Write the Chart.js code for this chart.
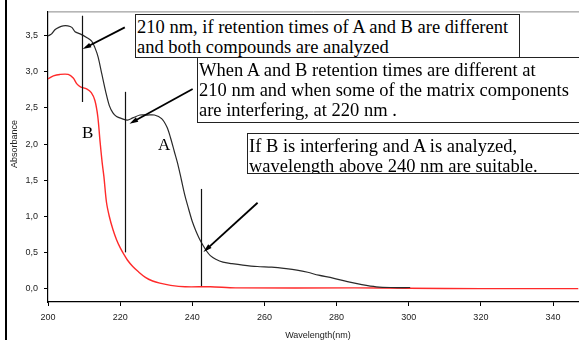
<!DOCTYPE html>
<html lang="en">
<head>
  <meta charset="UTF-8">
  <title>Absorbance spectra of A and B</title>
  <script src="https://cdn.jsdelivr.net/npm/chart.js"></script>
  <style>
    body { margin: 0; background: #fff; }
    #wrap { position: relative; width: 579px; height: 340px; overflow: hidden; }
    #leftbar { position: absolute; left: 5px; top: 0; width: 2px; height: 340px; background: #000; }
    .note {
      position: absolute;
      font-family: "Liberation Serif", "Times New Roman", serif;
      font-size: 18.5px;
      line-height: 20px;
      color: #000;
      background: #fff;
      border: 1px solid #222;
      padding: 2px 1px 0 1px;
      white-space: nowrap;
      box-sizing: border-box;
      overflow: hidden;
    }
    .lbl {
      position: absolute;
      font-family: "Liberation Serif", "Times New Roman", serif;
      font-size: 17px;
      color: #000;
    }
    .axt {
      position: absolute;
      font-family: "Liberation Sans", Arial, sans-serif;
      font-size: 9px;
      color: #222;
      white-space: nowrap;
    }
  </style>
</head>
<body>
<div id="wrap">
  <canvas id="chart" width="579" height="340"></canvas>
  <div id="leftbar"></div>
  <div class="note" style="left:135px; top:14px; width:385px; height:44px;">210 nm, if retention times of A and B are different<br>and both compounds are analyzed</div>
  <div class="note" style="left:197px; top:57px; width:400px; height:66px;">When A and B retention times are different at<br>210 nm and when some of the matrix components<br>are interfering, at 220 nm .</div>
  <div class="note" style="left:247px; top:133px; width:360px; height:41px;">If B is interfering and A is analyzed,<br>wavelength above 240 nm are suitable.</div>
  <div class="lbl" style="left:82px; top:123px;">B</div>
  <div class="lbl" style="left:158px; top:135px;">A</div>
  <div class="axt" style="left:-10px; top:139px; transform: rotate(-90deg); width:48px; text-align:center;">Absorbance</div>
  <div class="axt" style="left:255px; top:330px; width:126px; text-align:center;">Wavelength(nm)</div>
</div>

<script>
  // spectrum of compound A (black)
  const wavelengthA = [200, 201, 202, 203, 204.2, 205.5, 206.6, 207.5, 208.9, 210.7, 212.1, 213, 213.9, 214.9, 216, 217, 218, 219, 220.5, 222,
    223.5, 225.5, 227.5, 229.5, 231.5, 233, 234, 235, 236, 237, 238, 239, 240, 241, 242, 243, 244, 245, 246.5, 248.5,
    251, 254, 258, 262, 266, 269, 272, 275, 279, 283, 287, 291, 295, 300.4];
  const absorbA = [3.49, 3.52, 3.58, 3.61, 3.63, 3.63, 3.61, 3.55, 3.52, 3.47, 3.42, 3.33, 3.2, 2.97, 2.72, 2.53, 2.43, 2.38, 2.35, 2.33,
    2.36, 2.40, 2.40, 2.40, 2.35, 2.23, 2.08, 1.9, 1.72, 1.5, 1.28, 1.1, 0.93, 0.8, 0.69, 0.6, 0.52, 0.46, 0.41, 0.37,
    0.35, 0.33, 0.31, 0.30, 0.28, 0.26, 0.23, 0.19, 0.15, 0.1, 0.06, 0.03, 0.02, 0.02];

  // spectrum of compound B (red)
  const wavelengthB = [200, 201.5, 203.3, 205.6, 207, 208, 209, 210.7, 212, 213, 213.8, 214.4, 215, 215.5, 216.2, 217, 218, 219, 220, 221,
    222, 223.5, 225, 227, 229, 231, 234, 238, 245, 252, 285, 300, 320, 347];
  const absorbB = [2.90, 2.94, 2.96, 2.96, 2.91, 2.83, 2.79, 2.76, 2.71, 2.6, 2.38, 2.05, 1.75, 1.55, 1.2, 1.0, 0.82, 0.68, 0.57, 0.48,
    0.40, 0.31, 0.24, 0.16, 0.11, 0.08, 0.05, 0.03, 0.03, 0.015, 0.015, 0.01, 0.005, 0.005];

  const xTickValues = [200, 220, 240, 260, 280, 300, 320, 340];
  const yTickValues = [0, 0.5, 1, 1.5, 2, 2.5, 3, 3.5];

  // annotation marks in data units: [nm, top absorbance, bottom absorbance]
  const markerLines = [[209.3, 3.77, 2.58], [221.3, 2.72, 0.505], [242.5, 1.38, 0.04]];
  // arrows: [from nm, from abs, to nm, to abs]
  const arrows = [[221.3, 3.61, 209.6, 3.31], [240.1, 2.76, 222.6, 2.28], [258.1, 1.19, 243.1, 0.51]];

  const toPoints = (xs, ys) => xs.map((x, i) => ({ x: x, y: ys[i] }));

  const annotate = {
    id: 'annotate',
    afterDatasetsDraw(chart) {
      const { ctx, chartArea } = chart;
      const xs = chart.scales.x, ys = chart.scales.y;
      ctx.save();
      // top frame line
      ctx.strokeStyle = '#888';
      ctx.lineWidth = 1;
      ctx.beginPath();
      ctx.moveTo(chartArea.left, chartArea.top + 0.5);
      ctx.lineTo(chartArea.right, chartArea.top + 0.5);
      ctx.stroke();

      ctx.strokeStyle = '#111';
      ctx.lineWidth = 1.2;
      markerLines.forEach(m => {
        const px = Math.round(xs.getPixelForValue(m[0])) + 0.5;
        ctx.beginPath();
        ctx.moveTo(px, ys.getPixelForValue(m[1]));
        ctx.lineTo(px, ys.getPixelForValue(m[2]));
        ctx.stroke();
      });

      ctx.strokeStyle = '#000';
      ctx.fillStyle = '#000';
      ctx.lineWidth = 1.8;
      arrows.forEach(a => {
        const x1 = xs.getPixelForValue(a[0]), y1 = ys.getPixelForValue(a[1]);
        const x2 = xs.getPixelForValue(a[2]), y2 = ys.getPixelForValue(a[3]);
        const ang = Math.atan2(y2 - y1, x2 - x1);
        const hl = 9, hw = 0.28;
        ctx.beginPath();
        ctx.moveTo(x1, y1);
        ctx.lineTo(x2 - Math.cos(ang) * 4, y2 - Math.sin(ang) * 4);
        ctx.stroke();
        ctx.beginPath();
        ctx.moveTo(x2, y2);
        ctx.lineTo(x2 - hl * Math.cos(ang - hw), y2 - hl * Math.sin(ang - hw));
        ctx.lineTo(x2 - hl * Math.cos(ang + hw), y2 - hl * Math.sin(ang + hw));
        ctx.closePath();
        ctx.fill();
      });
      ctx.restore();
    }
  };

  const tickFont = { family: '"Liberation Sans", Arial, sans-serif', size: 9 };

  new Chart(document.getElementById('chart'), {
    type: 'line',
    data: {
      datasets: [
        {
          label: 'A',
          data: toPoints(wavelengthA, absorbA),
          borderColor: '#2a2a2a',
          borderWidth: 1.2,
          pointRadius: 0,
          tension: 0.3,
          fill: false
        },
        {
          label: 'B',
          data: toPoints(wavelengthB, absorbB),
          borderColor: '#ff2a2a',
          borderWidth: 1.4,
          pointRadius: 0,
          tension: 0.3,
          fill: false
        }
      ]
    },
    options: {
      responsive: false,
      animation: false,
      layout: { padding: { top: 9, right: 0, bottom: 0, left: 0 } },
      plugins: { legend: { display: false }, tooltip: { enabled: false } },
      scales: {
        x: {
          type: 'linear',
          min: 200,
          max: 347.2,
          afterFit(scale) { scale.height = 38; },
          afterBuildTicks(scale) { scale.ticks = xTickValues.map(v => ({ value: v })); },
          grid: { drawOnChartArea: false, drawTicks: true, tickLength: 4, color: '#000' },
          border: { display: true, color: '#000', width: 1.2 },
          ticks: { font: tickFont, color: '#222', padding: 6, maxRotation: 0, callback: v => String(v) }
        },
        y: {
          type: 'linear',
          min: -0.18,
          max: 3.83,
          afterFit(scale) { scale.width = 48; },
          afterBuildTicks(scale) { scale.ticks = yTickValues.map(v => ({ value: v })); },
          grid: { drawOnChartArea: false, drawTicks: true, tickLength: 4, color: '#000' },
          border: { display: true, color: '#000', width: 1.2 },
          ticks: { font: tickFont, color: '#222', padding: 6, callback: v => v.toFixed(1).replace('.', ',') }
        }
      }
    },
    plugins: [annotate]
  });
</script>
</body>
</html>
